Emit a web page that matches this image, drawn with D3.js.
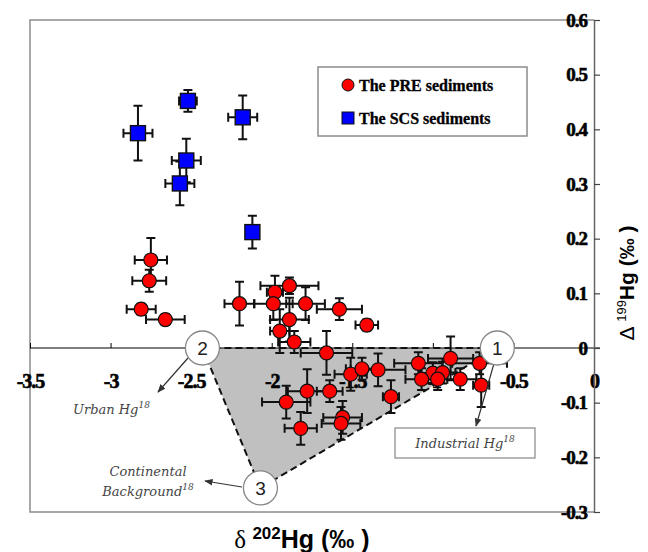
<!DOCTYPE html>
<html><head><meta charset="utf-8">
<script src="https://cdn.jsdelivr.net/npm/d3@7"></script>
<style>body{margin:0;background:#fff}svg{display:block}</style>
</head><body>
<svg id="chart" width="648" height="552"></svg>
<script>
// ---- data ----
const xTicks = [-3.5, -3, -2.5, -2, -1.5, -1, -0.5, 0];
const yTicks = [-0.3, -0.2, -0.1, 0, 0.1, 0.2, 0.3, 0.4, 0.5, 0.6];

const preX   = [-2.75,-2.76,-2.81,-2.66,-2.20,-1.98,-1.89,-1.99,-1.79,-1.58,-1.41,-1.89,-1.95,-1.86,-1.66,-1.51,-1.44,-1.34,-1.78,-1.64,-1.91,-1.26,-1.56,-1.57,-1.82,-1.09,-0.89,-0.71,-1.00,-0.94,-0.97,-1.07,-0.83,-0.70];
const preY   = [0.161,0.123,0.071,0.052,0.081,0.102,0.114,0.081,0.081,0.071,0.042,0.052,0.031,0.011,-0.009,-0.048,-0.038,-0.040,-0.079,-0.079,-0.099,-0.089,-0.127,-0.138,-0.147,-0.028,-0.019,-0.028,-0.046,-0.045,-0.057,-0.057,-0.057,-0.068];
const preXErr= [0.10,0.105,0.09,0.12,0.093,0.05,0.18,0.12,0.12,0.14,0.07,0.12,0.06,0.10,0.16,0.10,0.10,0.17,0.12,0.08,0.15,0.05,0.12,0.12,0.10,0.15,0.14,0.17,0.08,0.08,0.06,0.10,0.10,0.05];
const preYErr= [0.04,0.02,0.01,0.01,0.04,0.03,0.015,0.03,0.03,0.02,0.01,0.04,0.04,0.02,0.04,0.03,0.02,0.03,0.04,0.02,0.03,0.03,0.03,0.03,0.03,0.02,0.04,0.02,0.02,0.02,0.02,0.02,0.02,0.04];

const scsX   = [-2.52,-2.83,-2.18,-2.53,-2.57,-2.12];
const scsY   = [0.452,0.393,0.422,0.343,0.301,0.212];
const scsXErr= [0.055,0.09,0.09,0.09,0.09,0.04];
const scsYErr= [0.02,0.05,0.04,0.04,0.04,0.03];

const sourceLabels = ["1","2","3"];
const sourceX = [-0.60,-2.43,-2.07];
const sourceY = [0,0,-0.256];

const legendNames = ["The PRE sediments","The SCS sediments"];

// ---- chart ----
const svg = d3.select("#chart");
const x = d3.scaleLinear().domain([-3.5,0]).range([30,594]);
const y = d3.scaleLinear().domain([-0.3,0.6]).range([512,20]);

// frame
svg.append("path")
  .attr("d", `M${x(0)},${y(0.6)}H${x(-3.5)}V${y(-0.3)}H${x(0)}`)
  .attr("fill","none").attr("stroke","#8c8c8c").attr("stroke-width",1.5);

// triangle mixing area
const tri = sourceX.map((d,i)=>[x(d), y(sourceY[i])]);
svg.append("path")
  .attr("d", "M" + [tri[1],tri[0],tri[2]].map(p=>p.join(",")).join("L") + "Z")
  .attr("fill","#c0c0c0").attr("stroke","none");

// x axis
const xAxis = d3.axisBottom(x).tickValues(xTicks).tickSizeInner(-5).tickSizeOuter(0).tickPadding(26)
  .tickFormat(d=>String(d));
const gx = svg.append("g").attr("transform",`translate(0,${y(0)})`).call(xAxis);
gx.select(".domain").attr("stroke","#000").attr("stroke-width",1).attr("d",`M${x(-3.5)},0H${x(0)+6}`);
gx.selectAll(".tick line").attr("stroke","#000");
gx.selectAll("text").attr("font-family","Liberation Serif").attr("font-weight","bold")
  .attr("font-size",20).attr("fill","#000").attr("stroke","#000").attr("stroke-width",0.6)
  .style("letter-spacing","-1px");

// dashed triangle edges
svg.append("path")
  .attr("d", "M" + [tri[1],tri[0],tri[2]].map(p=>p.join(",")).join("L") + "Z")
  .attr("fill","none").attr("stroke","#111").attr("stroke-width",2).attr("stroke-dasharray","7,4");

// y axis
const yAxis = d3.axisLeft(y).tickValues(yTicks).tickSizeInner(-6).tickSizeOuter(0).tickPadding(7)
  .tickFormat(d=> d===0 ? "0" : d.toFixed(1));
const gy = svg.append("g").attr("transform",`translate(${x(0)},0)`).call(yAxis);
gy.select(".domain").attr("stroke","#666").attr("stroke-width",1.5);
gy.selectAll(".tick line").attr("stroke","#444").attr("stroke-width",1.2);
gy.selectAll("text").attr("font-family","Liberation Serif").attr("font-weight","bold")
  .attr("font-size",19).attr("fill","#000").attr("stroke","#000").attr("stroke-width",0.6)
  .style("letter-spacing","-1px");

// error bars
function errorBars(xs, ys, exs, eys) {
  const g = svg.append("g").attr("stroke","#111").attr("stroke-width",2).attr("fill","none");
  const cap = 4.5;
  xs.forEach((xv,i)=>{
    const cx = x(xv), cy = y(ys[i]);
    const x0 = x(xv-exs[i]), x1 = x(xv+exs[i]);
    const y0 = y(ys[i]-eys[i]), y1 = y(ys[i]+eys[i]);
    g.append("path").attr("d",
      `M${x0},${cy}H${x1}M${x0},${cy-cap}V${cy+cap}M${x1},${cy-cap}V${cy+cap}` +
      `M${cx},${y0}V${y1}M${cx-cap},${y0}H${cx+cap}M${cx-cap},${y1}H${cx+cap}`);
  });
}
errorBars(preX, preY, preXErr, preYErr);
errorBars(scsX, scsY, scsXErr, scsYErr);

// points
svg.append("g").selectAll("circle").data(preX).join("circle")
  .attr("cx",(d)=>x(d)).attr("cy",(d,i)=>y(preY[i])).attr("r",7)
  .attr("fill","#ff0000").attr("stroke","#111").attr("stroke-width",1.2);
svg.append("g").selectAll("rect").data(scsX).join("rect")
  .attr("x",d=>x(d)-7.5).attr("y",(d,i)=>y(scsY[i])-7.5).attr("width",15).attr("height",15)
  .attr("fill","#0000ff").attr("stroke","#111").attr("stroke-width",1.4);

// arrows
const defs = svg.append("defs");
defs.append("marker").attr("id","arr").attr("viewBox","0 0 10 10").attr("refX",9).attr("refY",5)
  .attr("markerWidth",7).attr("markerHeight",7).attr("orient","auto")
  .append("path").attr("d","M0,1L10,5L0,9Z").attr("fill","#333");
const arrows = [[188,358,158,392],[495,360,476,426],[242,487,205,481]];
arrows.forEach(a=>{
  svg.append("line").attr("x1",a[0]).attr("y1",a[1]).attr("x2",a[2]).attr("y2",a[3])
    .attr("stroke","#333").attr("stroke-width",1.2).attr("marker-end","url(#arr)");
});

// source circles
const sg = svg.append("g").selectAll("g").data(sourceLabels).join("g")
  .attr("transform",(d,i)=>`translate(${x(sourceX[i])},${y(sourceY[i])})`);
sg.append("circle").attr("r",17).attr("fill","#fff").attr("stroke","#888").attr("stroke-width",1.3);
sg.append("text").attr("text-anchor","middle").attr("dy","0.36em").attr("font-family","Liberation Sans")
  .attr("font-size",19).attr("fill","#222").text(d=>d);

// annotation texts
const ann = (tx,ty,txt,anchor)=>{
  const t = svg.append("text").attr("x",tx).attr("y",ty).attr("text-anchor",anchor||"start")
    .attr("font-family","DejaVu Serif").attr("font-style","italic").attr("font-size",13).attr("fill","#444");
  t.append("tspan").text(txt);
  return t;
};
ann(73,414,"Urban Hg").append("tspan").attr("dy",-6).attr("font-size",9).text("18");
svg.append("rect").attr("x",395).attr("y",428).attr("width",140).attr("height",30)
  .attr("fill","#fff").attr("stroke","#888").attr("stroke-width",1.2);
ann(465,448,"Industrial Hg","middle").append("tspan").attr("dy",-6).attr("font-size",9).text("18");
ann(148,476,"Continental","middle");
ann(148,496,"Background","middle").append("tspan").attr("dy",-6).attr("font-size",9).text("18");

// legend
const lg = svg.append("g");
lg.append("rect").attr("x",318).attr("y",67).attr("width",209).attr("height",69)
  .attr("fill","#fff").attr("stroke","#8c8c8c").attr("stroke-width",1.5);
lg.append("circle").attr("cx",348).attr("cy",85).attr("r",6).attr("fill","#ff0000").attr("stroke","#111");
lg.append("rect").attr("x",342).attr("y",112).attr("width",12).attr("height",12).attr("fill","#0000ff").attr("stroke","#111");
legendNames.forEach((n,i)=>{
  lg.append("text").attr("x",359).attr("y",91+i*33).attr("font-family","Liberation Serif")
    .attr("font-weight","bold").attr("font-size",16).attr("fill","#000").attr("stroke","#000")
    .attr("stroke-width",0.3).text(n);
});

// axis titles
const xt = svg.append("text").attr("x",302).attr("y",548).attr("text-anchor","middle")
  .attr("font-family","Liberation Sans").attr("font-weight","bold").attr("font-size",25).attr("fill","#000");
xt.append("tspan").attr("font-family","Liberation Serif").attr("font-weight","normal").text("δ ");
xt.append("tspan").attr("font-size",17).attr("dy",-9).text("202");
xt.append("tspan").attr("dy",9).text("Hg (‰ )");

const yt = svg.append("text").attr("transform","translate(634,283) rotate(-90)").attr("text-anchor","middle")
  .attr("font-family","Liberation Sans").attr("font-weight","bold").attr("font-size",21).attr("fill","#000");
yt.append("tspan").attr("font-weight","normal").text("Δ ");
yt.append("tspan").attr("font-weight","normal").attr("font-size",13).attr("dy",-8).text("199");
yt.append("tspan").attr("dy",8).text("Hg  (‰ )");
</script>
</body></html>
